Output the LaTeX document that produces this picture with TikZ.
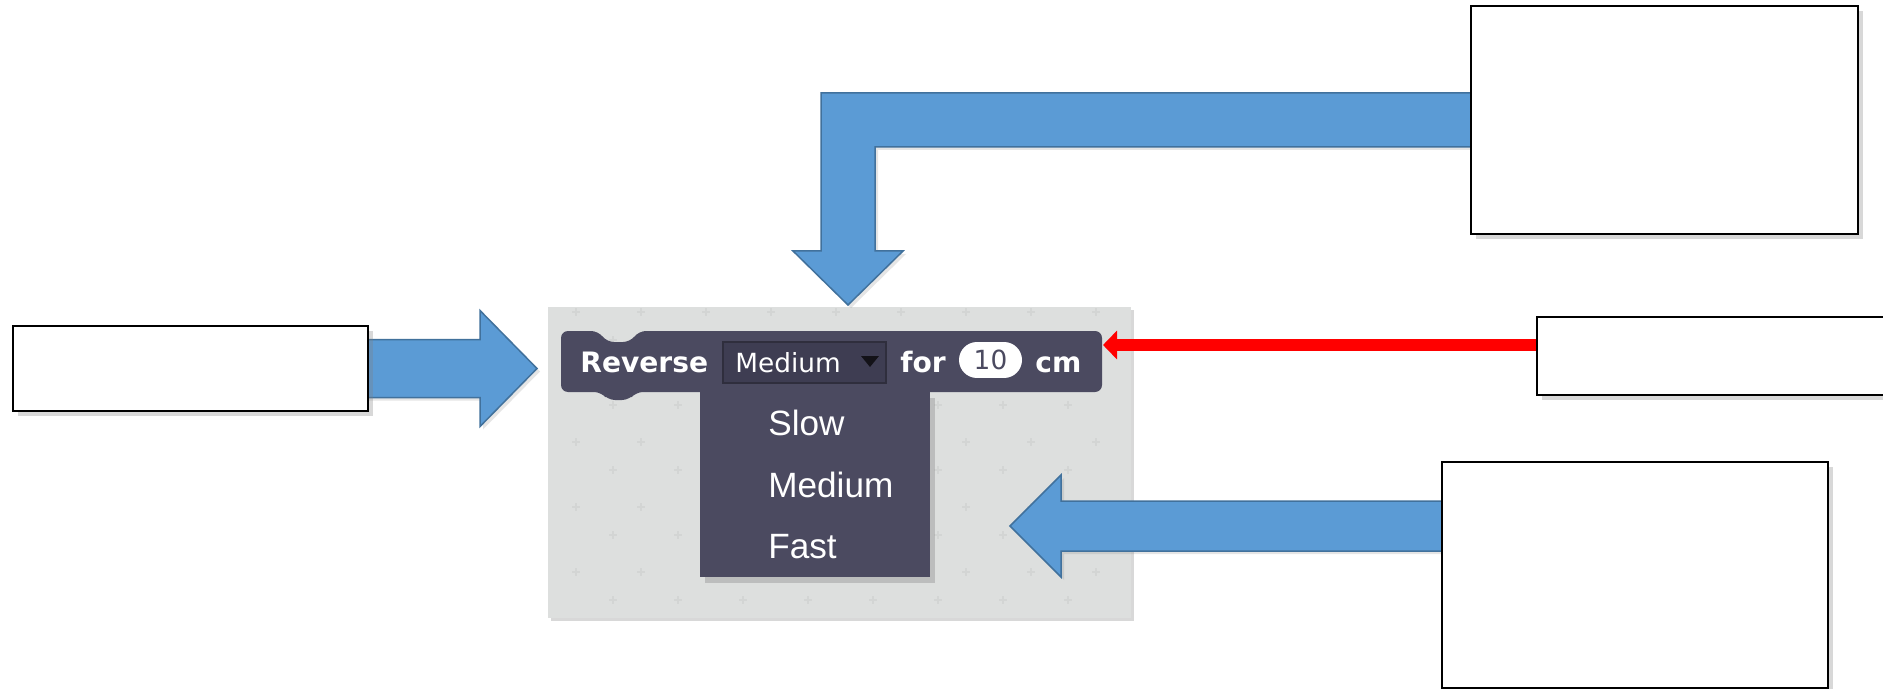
\documentclass[tikz,border=0pt]{standalone}
\usepackage{fontspec}
\setmainfont{Liberation Sans}
\newfontfamily\blockfont{DejaVu Sans}
\usetikzlibrary{arrows.meta,calc,shadows}
\definecolor{arrowblue}{RGB}{91,155,213}
\definecolor{arrowedge}{RGB}{65,113,156}
\definecolor{blockgray}{RGB}{75,74,96}
\definecolor{fieldgray}{RGB}{62,61,82}
\definecolor{panelgray}{RGB}{221,223,222}
\definecolor{plusgray}{RGB}{211,213,212}
\pgfdeclarelayer{front}
\pgfsetlayers{main,front}

\begin{document}
\begin{tikzpicture}[x=0.02cm, y=-0.02cm,
  labelbox/.style={draw=black, line width=0.055cm, fill=white, inner sep=0pt,
    drop shadow={shadow xshift=0.1cm, shadow yshift=-0.1cm, opacity=0.3}},
  fatarrow/.style={fill=arrowblue, draw=arrowedge, line width=0.03cm,
    drop shadow={shadow xshift=0.06cm, shadow yshift=-0.06cm, opacity=0.2}},
  blocktext/.style={text=white, inner sep=0pt, anchor=base west,
    font=\blockfont\bfseries\fontsize{16}{18}\selectfont},
  menuitem/.style={text=white, inner sep=0pt, anchor=base west,
    font=\fontsize{20}{24}\selectfont}]
  \useasboundingbox (0,0) rectangle (1883,689);
  \fill[white] (0,0) rectangle (1883,689);

  \node[fill=panelgray, minimum width=11.66cm, minimum height=6.22cm, inner sep=0pt,
    drop shadow={shadow xshift=0.06cm, shadow yshift=-0.06cm, opacity=0.3}] (panel) at (839.5,462.5) {};
  \foreach \i in {0,...,8}{
    \foreach \j in {0,...,4}{
      \draw[plusgray, line width=0.03cm] ({572+65*\i},{312+65*\j}) -- +(8,0) ({576+65*\i},{308+65*\j}) -- +(0,8);
    }
  }
  \foreach \i in {0,...,7}{
    \foreach \j in {0,...,4}{
      \draw[plusgray, line width=0.03cm] ({609+65*\i},{340+65*\j}) -- +(8,0) ({613+65*\i},{336+65*\j}) -- +(0,8);
    }
  }

  \node[fill=blockgray, minimum width=4.6cm, minimum height=3.7cm, inner sep=0pt,
    drop shadow={shadow xshift=0.1cm, shadow yshift=-0.12cm, opacity=0.35}] (menu) at (815,484.5) {};
  \node[menuitem] (slow) at (768,435) {Slow};
  \node[menuitem] (medium) at (768,497) {Medium};
  \node[menuitem] (fast) at (768,558) {Fast};

  \node[minimum width=10.82cm, minimum height=1.22cm, inner sep=0pt] (block) at (831.5,361.5) {};
  \fill[blockgray, rounded corners=0.14cm] (561,331) -- (598,331) -- (607,342) -- (630,342) -- (639,331)
    -- (1102,331) -- (1102,392) -- (636,392) -- (629,400) -- (608,400) -- (601,392) -- (561,392) -- cycle;
  \node[fill=fieldgray, draw=black!25!fieldgray, line width=0.03cm, minimum width=3.26cm,
    minimum height=0.82cm, inner sep=0pt] (field) at (804.5,362.5) {};
  \fill[black!70!fieldgray] (861,356) -- (879,356) -- (870,367) -- cycle;
  \node[blocktext] (rev) at (580,372) {Reverse};
  \node[blocktext, font=\blockfont\fontsize{15}{18}\selectfont] (fieldtxt) at (735,372) {Medium};
  \node[blocktext] (fortxt) at (900,372) {for};
  \node[fill=white, rounded corners=0.36cm, minimum width=1.26cm, minimum height=0.72cm, inner sep=0pt,
    text=blockgray, font=\blockfont\fontsize{15}{18}\selectfont] (num) at (990.5,360) {10};
  \node[blocktext] (cmtxt) at (1035,372) {cm};

  \begin{pgfonlayer}{front}
    \node[labelbox, minimum width=7.1cm, minimum height=1.7cm] (leftbox) at (190.5,368.5) {};
    \node[labelbox, minimum width=7.74cm, minimum height=4.56cm] (topbox) at (1664.5,120) {};
    \node[labelbox, minimum width=7.26cm, minimum height=1.56cm] (midbox) at (1718.5,356) {};
    \node[labelbox, minimum width=7.72cm, minimum height=4.52cm] (botbox) at (1635,575) {};
  \end{pgfonlayer}

  \coordinate (lefttip) at (537,368.5);
  \coordinate (toptip) at (848,305);
  \coordinate (bottip) at (1010,526);
  \coordinate (redtip) at (1103,345);

  \filldraw[fatarrow] ($(leftbox.east)+(-6,-29)$) -- ($(lefttip)+(-57,-29)$) -- ($(lefttip)+(-57,-58)$) -- (lefttip)
    -- ($(lefttip)+(-57,58)$) -- ($(lefttip)+(-57,29)$) -- ($(leftbox.east)+(-6,29)$) -- cycle;
  \filldraw[fatarrow] ($(topbox.west)+(6,-27)$) -- ($(toptip |- topbox.west)+(-27,-27)$) -- ($(toptip)+(-27,-54)$)
    -- ($(toptip)+(-55,-54)$) -- (toptip) -- ($(toptip)+(55,-54)$) -- ($(toptip)+(27,-54)$)
    -- ($(toptip |- topbox.west)+(27,27)$) -- ($(topbox.west)+(6,27)$) -- cycle;
  \filldraw[fatarrow] ($(bottip -| botbox.west)+(6,-25)$) -- ($(bottip)+(51,-25)$) -- ($(bottip)+(51,-51)$) -- (bottip)
    -- ($(bottip)+(51,51)$) -- ($(bottip)+(51,25)$) -- ($(bottip -| botbox.west)+(6,25)$) -- cycle;
  \draw[red, line width=0.24cm, -{Triangle[width=0.56cm, length=0.28cm]}] ($(midbox.west)+(0,-11)$) -- (redtip);
\end{tikzpicture}
\end{document}
